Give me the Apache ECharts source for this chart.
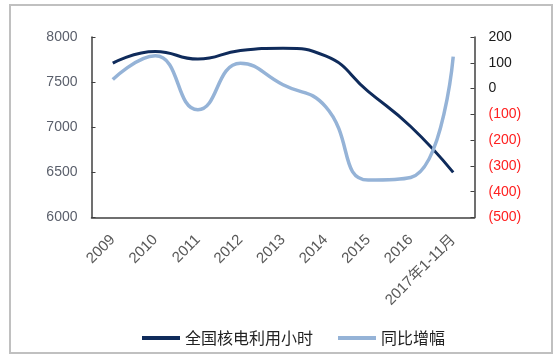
<!DOCTYPE html>
<html><head><meta charset="utf-8">
<script src="https://cdn.jsdelivr.net/npm/echarts@6/dist/echarts.min.js"></script>
<style>html,body{margin:0;padding:0;background:#fff}#c{width:559px;height:357px}</style>
</head><body><div id="c"></div>
<script>
var categories = ['2009','2010','2011','2012','2013','2014','2015','2016','2017年1-11月'];
var hours = [7710, 7840, 7755, 7850, 7875, 7790, 7398, 7008, 6500];
var yoy = [35, 127, -82, 98, 15, -70, -355, -345, 124];
var seriesNames = ['全国核电利用小时', '同比增幅'];

var FONT = '"Liberation Sans", Arial, "Noto Sans CJK SC", sans-serif';
var chart = echarts.init(document.getElementById('c'), null, {renderer: 'canvas'});
chart.setOption({
  animation: false,
  backgroundColor: '#fff',
  textStyle: {fontFamily: FONT},
  graphic: [{type: 'rect', shape: {x: 10, y: 5, width: 542, height: 348}, style: {fill: 'none', stroke: '#c0c0c0', lineWidth: 2}, silent: true}],
  grid: {left: 91.5, right: 84.5, top: 37, bottom: 139.5, containLabel: false},
  legend: {
    left: 137, top: 325, itemWidth: 38, itemHeight: 4, itemGap: 25, icon: 'rect',
    textStyle: {fontSize: 16, color: '#222', fontFamily: '"Noto Sans CJK SC", sans-serif'},
    data: seriesNames
  },
  xAxis: {
    type: 'category', data: categories, boundaryGap: true,
    axisLine: {onZero: false, lineStyle: {color: '#404040', width: 1.5}},
    axisTick: {inside: true, length: 4, lineStyle: {color: '#404040'}},
    axisLabel: {rotate: 45, fontSize: 15, color: '#595959', margin: 20, fontFamily: FONT, interval: 0}
  },
  yAxis: [{
    type: 'value', min: 6000, max: 8000, interval: 500, position: 'left',
    splitLine: {show: false},
    axisLine: {show: true, lineStyle: {color: '#404040', width: 1.5}},
    axisTick: {show: true, inside: true, length: 4, lineStyle: {color: '#404040'}},
    axisLabel: {fontSize: 14, color: '#5a5f6b', margin: 14, fontFamily: FONT,
      formatter: function (v) { return String(v); }}
  }, {
    type: 'value', min: -500, max: 200, interval: 100, position: 'right',
    splitLine: {show: false},
    axisLine: {show: true, lineStyle: {color: '#404040', width: 1.5}},
    axisTick: {show: true, inside: true, length: 4, lineStyle: {color: '#404040'}},
    axisLabel: {
      fontSize: 14, margin: 14, fontFamily: FONT,
      formatter: function (v) { return v < 0 ? '(' + (-v) + ')' : String(v); },
      color: function (v) { return Number(v) < 0 ? '#ff2020' : '#1a1a1a'; }
    }
  }],
  series: [{
    name: seriesNames[0], type: 'line', yAxisIndex: 0, data: hours, smooth: 0.5,
    showSymbol: false, symbol: 'none',
    lineStyle: {color: '#0f2b5b', width: 3}, itemStyle: {color: '#0f2b5b'}
  }, {
    name: seriesNames[1], type: 'line', yAxisIndex: 1, data: yoy, smooth: 0.5,
    showSymbol: false, symbol: 'none',
    lineStyle: {color: '#95b3d7', width: 3.5}, itemStyle: {color: '#95b3d7'}
  }]
});
</script></body></html>
